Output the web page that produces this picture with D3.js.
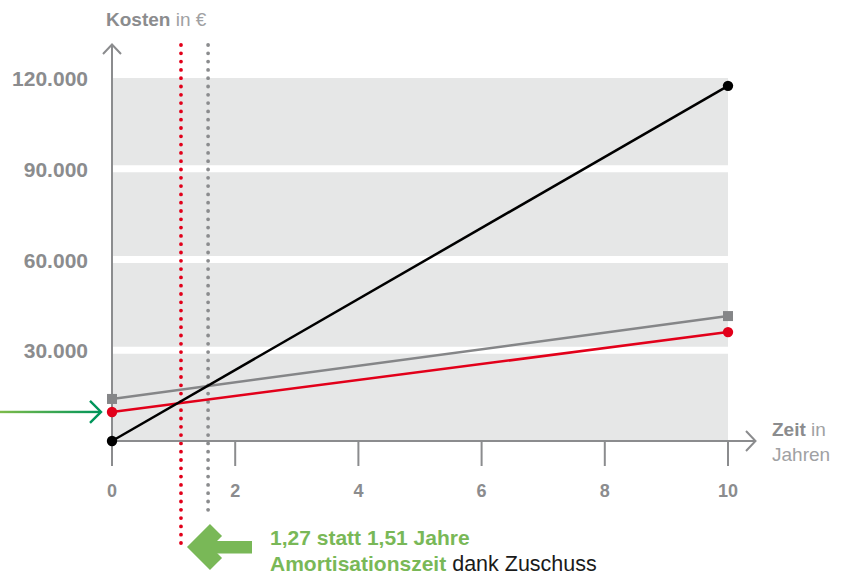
<!DOCTYPE html>
<html><head><meta charset="utf-8">
<script src="https://cdn.jsdelivr.net/npm/d3@7"></script>
<style>body{margin:0;background:#fff}svg{display:block;font-family:"Liberation Sans",Arial,sans-serif}</style>
</head><body><svg id="c" width="841" height="576"></svg>
<script>
const years = [0, 10];
const blackSeries = [0, 117400];
const graySeries = [13900, 41300];
const redSeries = [9600, 36000];
const yTicks = [30000, 60000, 90000, 120000];
const yTickLabels = ["30.000", "60.000", "90.000", "120.000"];
const xTicks = [0, 2, 4, 6, 8, 10];
const breakEvenRed = 1.12;   // drawn position of red dotted line
const breakEvenGray = 1.56;  // drawn position of gray dotted line

const svg = d3.select("#c");
const x = d3.scaleLinear().domain([0, 10]).range([112, 728]);
const y = d3.scaleLinear().domain([0, 120000]).range([441, 78]);
const axisGray = "#8b8c8e";
const green = "#79b857";

// bands
svg.append("rect").attr("x", x(0)).attr("y", y(120000)).attr("width", x(10) - x(0)).attr("height", y(0) - y(120000)).attr("fill", "#e6e7e7");
svg.selectAll(".grid").data(yTicks.slice(0, 3)).enter().append("line")
  .attr("x1", x(0) + 1).attr("x2", x(10)).attr("y1", d => y(d)).attr("y2", d => y(d))
  .attr("stroke", "#fff").attr("stroke-width", 7);

// dotted lines
function dotted(xv, y2, color) {
  svg.append("line").attr("x1", x(xv)).attr("x2", x(xv)).attr("y1", 45).attr("y2", y2)
    .attr("stroke", color).attr("stroke-width", 3.8).attr("stroke-linecap", "round")
    .attr("stroke-dasharray", "0 8.3");
}
dotted(breakEvenRed, 548, "#e2001a");
dotted(breakEvenGray, 518, "#8b8c8e");

// axes
svg.append("line").attr("x1", x(0)).attr("x2", x(0)).attr("y1", 44).attr("y2", 466).attr("stroke", axisGray).attr("stroke-width", 2);
svg.append("path").attr("d", "M103,54 L112,44.5 L121,54").attr("fill", "none").attr("stroke", axisGray).attr("stroke-width", 2);
svg.append("line").attr("x1", x(0)).attr("x2", 756).attr("y1", y(0)).attr("y2", y(0)).attr("stroke", axisGray).attr("stroke-width", 2);
svg.append("path").attr("d", "M746,431 L755.5,441 L746,451").attr("fill", "none").attr("stroke", axisGray).attr("stroke-width", 2);
svg.selectAll(".xt").data(xTicks.slice(1)).enter().append("line")
  .attr("x1", d => x(d)).attr("x2", d => x(d)).attr("y1", y(0)).attr("y2", 466)
  .attr("stroke", axisGray).attr("stroke-width", 2);
svg.selectAll(".xl").data(xTicks).enter().append("text")
  .attr("x", d => x(d)).attr("y", 497).attr("text-anchor", "middle")
  .attr("font-size", 18).attr("font-weight", "bold").attr("fill", axisGray).text(d => d);
svg.selectAll(".yl").data(yTicks).enter().append("text")
  .attr("x", 88).attr("y", d => y(d) + 8).attr("text-anchor", "end")
  .attr("font-size", 21).attr("font-weight", "bold").attr("fill", axisGray)
  .text((d, i) => yTickLabels[i]);

// axis titles
const kt = svg.append("text").attr("x", 106).attr("y", 26).attr("font-size", 19).attr("fill", axisGray);
kt.append("tspan").attr("font-weight", "bold").text("Kosten");
kt.append("tspan").attr("fill", "#a0a1a3").text(" in €");
const zt = svg.append("text").attr("x", 772).attr("y", 436).attr("font-size", 19).attr("fill", axisGray);
zt.append("tspan").attr("font-weight", "bold").text("Zeit");
zt.append("tspan").attr("fill", "#a0a1a3").text(" in");
svg.append("text").attr("x", 772).attr("y", 461).attr("font-size", 19).attr("fill", "#a0a1a3").text("Jahren");

// series
const line = d3.line().x((d, i) => x(years[i])).y(d => y(d));
function series(vals, color, marker) {
  svg.append("path").datum(vals).attr("d", line).attr("fill", "none").attr("stroke", color).attr("stroke-width", 2.5);
  vals.forEach((v, i) => {
    if (marker === "square") {
      svg.append("rect").attr("x", x(years[i]) - 5).attr("y", y(v) - 5).attr("width", 10).attr("height", 10).attr("fill", color);
    } else {
      svg.append("circle").attr("cx", x(years[i])).attr("cy", y(v)).attr("r", 5.2).attr("fill", color);
    }
  });
}
series(graySeries, "#858688", "square");
series(redSeries, "#e2001a", "circle");
series(blackSeries, "#000", "circle");

// left green arrow
const defs = svg.append("defs");
const lg = defs.append("linearGradient").attr("id", "g1").attr("x1", "0").attr("x2", "1").attr("y1", "0").attr("y2", "0");
lg.append("stop").attr("offset", "0").attr("stop-color", "#7dbb4a");
lg.append("stop").attr("offset", "1").attr("stop-color", "#00955a");
svg.append("rect").attr("x", 0).attr("y", y(redSeries[0]) - 1.2).attr("width", 100).attr("height", 2.4).attr("fill", "url(#g1)");
svg.append("path").attr("d", `M90,${y(redSeries[0]) - 11} L101,${y(redSeries[0])} L90,${y(redSeries[0]) + 11}`)
  .attr("fill", "none").attr("stroke", "#00955a").attr("stroke-width", 2.4);

// big green arrow
svg.append("rect").attr("x", 202).attr("y", 541).attr("width", 50).attr("height", 12.5).attr("fill", green);
svg.append("path").attr("d", "M216,530 L199,547 L216,564").attr("fill", "none").attr("stroke", green).attr("stroke-width", 17);

// annotation
svg.append("text").attr("x", 270).attr("y", 545).attr("font-size", 21).attr("font-weight", "bold").attr("fill", green).text("1,27 statt 1,51 Jahre");
const at = svg.append("text").attr("x", 270).attr("y", 571).attr("font-size", 21).attr("fill", "#1a1a1a");
at.append("tspan").attr("font-weight", "bold").attr("fill", green).text("Amortisationszeit");
at.append("tspan").attr("font-size", 21.5).text(" dank Zuschuss");
</script></body></html>
